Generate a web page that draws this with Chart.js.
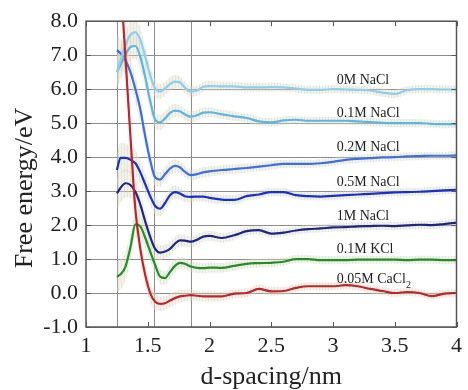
<!DOCTYPE html>
<html>
<head>
<meta charset="utf-8">
<script src="https://cdn.jsdelivr.net/npm/chart.js@4.4.1/dist/chart.umd.min.js"></script>
<style>
  html, body { margin: 0; padding: 0; background: #fff; }
</style>
</head>
<body>
<canvas id="freeEnergyChart" width="468" height="390"></canvas>
<script>
// d-spacing grid (nm), shared by all curves
const dSpacing = [1.25, 1.28, 1.32, 1.36, 1.40, 1.44, 1.48, 1.52, 1.56, 1.60, 1.64, 1.68, 1.72, 1.76, 1.80, 1.85, 1.90, 1.95,
  2.0, 2.1, 2.2, 2.3, 2.4, 2.5, 2.6, 2.7, 2.8, 2.9, 3.0, 3.1, 3.2, 3.3, 3.4, 3.5, 3.6, 3.7, 3.8, 3.9, 4.0];

// free energy (eV) per electrolyte
const nacl0 = [6.50, 6.85, 7.30, 7.60, 7.68, 7.45, 6.95, 6.40, 6.02, 5.93, 6.02, 6.15, 6.22, 6.20, 6.05, 5.93, 5.96, 6.07,
  6.09, 6.08, 6.08, 6.05, 6.05, 6.06, 6.05, 6.02, 5.98, 5.98, 6.00, 5.99, 5.98, 5.96, 5.90, 5.86, 5.97, 6.00, 6.00, 5.99, 5.99];
const nacl01 = [6.50, 6.72, 7.02, 7.24, 7.27, 6.95, 6.35, 5.65, 5.10, 5.02, 5.14, 5.30, 5.37, 5.35, 5.26, 5.19, 5.23, 5.31,
  5.32, 5.26, 5.20, 5.15, 5.05, 5.02, 5.08, 5.10, 5.07, 5.07, 5.07, 5.07, 5.05, 5.03, 5.01, 5.00, 5.00, 5.00, 4.98, 4.97, 4.97];
const nacl02 = [7.15, 7.05, 6.85, 6.50, 6.00, 5.40, 4.60, 3.90, 3.40, 3.34, 3.50, 3.66, 3.74, 3.70, 3.57, 3.47, 3.50, 3.55,
  3.58, 3.62, 3.65, 3.68, 3.72, 3.76, 3.80, 3.80, 3.80, 3.82, 3.86, 3.92, 3.95, 3.97, 3.99, 4.00, 4.02, 4.03, 4.04, 4.04, 4.05];
const nacl05 = [3.62, 3.98, 3.98, 3.92, 3.82, 3.55, 3.20, 2.85, 2.56, 2.48, 2.65, 2.88, 2.97, 2.93, 2.85, 2.83, 2.84, 2.84,
  2.80, 2.75, 2.74, 2.85, 2.90, 2.97, 2.97, 2.88, 2.85, 2.84, 2.86, 2.88, 2.90, 2.92, 2.94, 2.96, 2.97, 2.98, 3.00, 3.02, 3.04];
const nacl1 = [2.93, 3.10, 3.23, 3.18, 2.98, 2.60, 2.10, 1.65, 1.30, 1.19, 1.22, 1.30, 1.45, 1.55, 1.54, 1.51, 1.57, 1.66,
  1.68, 1.62, 1.70, 1.82, 1.85, 1.75, 1.78, 1.84, 1.88, 1.90, 1.93, 1.94, 1.96, 1.97, 1.98, 1.97, 1.99, 2.01, 2.00, 2.03, 2.07];
const kcl01 = [0.48, 0.55, 0.78, 1.35, 2.02, 1.96, 1.62, 1.22, 0.82, 0.48, 0.44, 0.62, 0.80, 0.89, 0.86, 0.78, 0.74, 0.73,
  0.75, 0.74, 0.80, 0.86, 0.88, 0.89, 0.92, 1.00, 1.00, 0.97, 0.97, 0.97, 0.98, 0.98, 0.98, 0.98, 0.97, 0.98, 0.98, 0.97, 0.97];
const cacl2 = [10.8, 9.2, 6.9, 4.6, 2.45, 1.3, 0.52, 0.0, -0.26, -0.32, -0.30, -0.22, -0.15, -0.10, -0.08, -0.06, -0.08, -0.10,
  -0.10, -0.10, -0.02, 0.00, 0.12, 0.05, 0.06, 0.15, 0.20, 0.20, 0.20, 0.23, 0.20, 0.12, 0.06, 0.00, 0.03, 0.00, -0.09, -0.02, 0.00];

// error bar half-width (eV)
const errBar = [0.45, 0.45, 0.42, 0.40, 0.38, 0.35, 0.32, 0.28, 0.25, 0.22, 0.20, 0.20, 0.20, 0.18, 0.17, 0.16, 0.15, 0.15,
  0.15, 0.14, 0.14, 0.13, 0.13, 0.13, 0.12, 0.12, 0.12, 0.12, 0.12, 0.12, 0.12, 0.12, 0.12, 0.12, 0.12, 0.12, 0.12, 0.12, 0.12];

const seriesNames = ['0M NaCl', '0.1M NaCl', '0.2M NaCl', '0.5M NaCl', '1M NaCl', '0.1M KCl', '0.05M CaCl₂'];
const seriesValues = [nacl0, nacl01, nacl02, nacl05, nacl1, kcl01, cacl2];
const seriesColors = ['#8ccff0', '#5ab6e4', '#3c6fe6', '#1630d6', '#1c2688', '#1f8f2a', '#c4222a'];

// curve labels (data coords)
const labelX = 3.03;
const labelY = [6.26, 5.29, 4.28, 3.26, 2.26, 1.29, 0.41];

// vertical guide lines
const markerLines = [1.25, 1.55, 1.85];

const serif = "'Liberation Serif', 'DejaVu Serif', serif";

function stripes() {
  const c = document.createElement('canvas');
  c.width = 3; c.height = 3;
  const g = c.getContext('2d');
  g.fillStyle = 'rgba(222,222,200,0.35)';
  g.fillRect(0, 0, 3, 3);
  g.fillStyle = 'rgba(205,205,175,0.3)';
  g.fillRect(1, 0, 1, 3);
  return g.createPattern(c, 'repeat');
}
const bandFill = stripes();

const datasets = [];
seriesValues.forEach((vals, k) => {
  datasets.push({
    label: seriesNames[k],
    data: dSpacing.map((x, i) => ({ x: x, y: vals[i] })),
    borderColor: seriesColors[k],
    borderWidth: 2.2,
    pointRadius: 0,
    fill: false,
    cubicInterpolationMode: 'monotone',
    order: k === 6 ? 0 : 1
  });
});
seriesValues.forEach((vals) => {
  datasets.push({
    data: dSpacing.map((x, i) => ({ x: x, y: vals[i] + errBar[i] })),
    borderWidth: 0,
    pointRadius: 0,
    backgroundColor: bandFill,
    fill: '+1',
    cubicInterpolationMode: 'monotone',
    order: 2
  });
  datasets.push({
    data: dSpacing.map((x, i) => ({ x: x, y: vals[i] - errBar[i] })),
    borderWidth: 0,
    pointRadius: 0,
    fill: false,
    cubicInterpolationMode: 'monotone',
    order: 2
  });
});

const decorPlugin = {
  id: 'decor',
  beforeDatasetsDraw(chart) {
    const { ctx, chartArea: a, scales: { x } } = chart;
    ctx.save();
    ctx.strokeStyle = '#8c8c8c';
    ctx.lineWidth = 1;
    markerLines.forEach(v => {
      const px = Math.round(x.getPixelForValue(v)) + 0.5;
      ctx.beginPath();
      ctx.moveTo(px, a.top);
      ctx.lineTo(px, a.bottom);
      ctx.stroke();
    });
    ctx.restore();
  },
  afterDatasetsDraw(chart) {
    const { ctx, chartArea: a, scales: { x, y } } = chart;
    ctx.save();
    // frame
    ctx.strokeStyle = '#555';
    ctx.lineWidth = 1.5;
    ctx.strokeRect(a.left, a.top, a.right - a.left, a.bottom - a.top);
    // inward tick marks
    ctx.lineWidth = 1;
    ctx.beginPath();
    x.ticks.forEach(t => {
      const px = Math.round(x.getPixelForValue(t.value)) + 0.5;
      ctx.moveTo(px, a.bottom); ctx.lineTo(px, a.bottom - 5);
      ctx.moveTo(px, a.top); ctx.lineTo(px, a.top + 5);
    });
    y.ticks.forEach(t => {
      const py = Math.round(y.getPixelForValue(t.value)) + 0.5;
      ctx.moveTo(a.left, py); ctx.lineTo(a.left + 5, py);
      ctx.moveTo(a.right, py); ctx.lineTo(a.right - 5, py);
    });
    ctx.stroke();

    // curve labels
    ctx.fillStyle = '#222';
    ctx.textBaseline = 'middle';
    ctx.textAlign = 'left';
    seriesNames.forEach((name, k) => {
      const px = x.getPixelForValue(labelX);
      const py = y.getPixelForValue(labelY[k]);
      ctx.font = '14px ' + serif;
      if (name.endsWith('₂')) {
        const base = name.slice(0, -1);
        ctx.fillText(base, px, py);
        const w = ctx.measureText(base).width;
        ctx.font = '10px ' + serif;
        ctx.fillText('2', px + w, py + 6);
      } else {
        ctx.fillText(name, px, py);
      }
    });

    // axis titles
    ctx.fillStyle = '#222';
    ctx.font = '26px ' + serif;
    ctx.textAlign = 'center';
    ctx.fillText('d-spacing/nm', (a.left + a.right) / 2, 377);
    ctx.translate(25, 188);
    ctx.rotate(-Math.PI / 2);
    ctx.fillText('Free energy/eV', 0, 0);
    ctx.restore();
  }
};

new Chart(document.getElementById('freeEnergyChart'), {
  type: 'line',
  data: { datasets: datasets },
  options: {
    responsive: false,
    animation: false,
    layout: { padding: { top: 21, right: 7, left: 0, bottom: 0 } },
    plugins: {
      legend: { display: false },
      tooltip: { enabled: false }
    },
    scales: {
      x: {
        type: 'linear',
        min: 1,
        max: 4,
        afterFit(scale) { scale.height = 63; },
        ticks: {
          stepSize: 0.5,
          padding: 6,
          color: '#222',
          font: { family: serif, size: 22 },
          callback: v => String(v)
        },
        grid: { display: false, drawTicks: false },
        border: { display: false }
      },
      y: {
        min: -1,
        max: 8,
        afterFit(scale) { scale.width = 86; },
        ticks: {
          stepSize: 1,
          padding: 8,
          color: '#222',
          font: { family: serif, size: 22 },
          callback: v => v.toFixed(1)
        },
        grid: { color: '#8c8c8c', lineWidth: 1, drawTicks: false },
        border: { display: false }
      }
    }
  },
  plugins: [decorPlugin]
});
</script>
</body>
</html>
